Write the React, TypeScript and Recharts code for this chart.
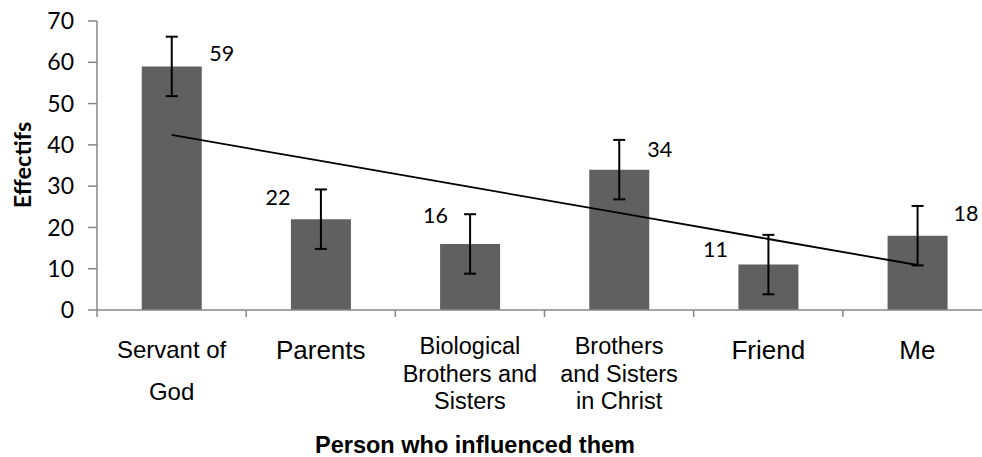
import React from 'react';
import {
  ComposedChart,
  Bar,
  Line,
  XAxis,
  YAxis,
  ErrorBar,
  LabelList,
  Label,
} from 'recharts';

const categories = [
  ['Servant of', 'God'],
  ['Parents'],
  ['Biological', 'Brothers and', 'Sisters'],
  ['Brothers', 'and Sisters', 'in Christ'],
  ['Friend'],
  ['Me'],
];
const counts = [59, 22, 16, 34, 11, 18];
const errors = [7.2, 7.2, 7.2, 7.2, 7.2, 7.2];
const trend = [42.4, 36.1, 29.8, 23.5, 17.2, 10.9];
const yTicks = [0, 10, 20, 30, 40, 50, 60, 70];

const data = categories.map((lines, i) => ({
  name: lines.join(' '),
  count: counts[i],
  err: errors[i],
  trend: trend[i],
}));

// the original is cropped on the right, so the plot runs past the edge
const CHART_W = 982;
const CHART_H = 457;
const MARGIN = { top: 21, right: -10, bottom: 0, left: 0 };
const Y_AXIS_W = 97;
const HALF_BAND = (CHART_W - MARGIN.left - MARGIN.right - Y_AXIS_W) / categories.length / 2;

const AXIS_GRAY = '#878787';
const BAR_FILL = '#606060';
const CALIBRI = 'Lato, "Open Sans", sans-serif';
const ARIAL = '"Liberation Sans", Arial, sans-serif';

// label placement relative to bar centre / top, like the hand-moved labels of the original
const LABEL_DX = [50, -43, -34.5, 40.5, -53, 48.5];
const LABEL_DY = [-13.5, -22.5, -29, -21, -16, -22.5];

function CategoryTick(props: any) {
  const { x, y, index } = props;
  const axisY = y - 7;
  const lines = categories[index] || [];
  let baselines: number[];
  let size: number;
  if (lines.length === 3) {
    baselines = [44, 71.5, 98.5];
    size = 23.5;
  } else if (lines.length === 2) {
    baselines = [48, 90];
    size = 24;
  } else {
    baselines = [49];
    size = 26;
  }
  return (
    <g>
      <line x1={x - HALF_BAND} x2={x - HALF_BAND} y1={axisY} y2={axisY + 7} stroke={AXIS_GRAY} strokeWidth={1.5} />
      {lines.map((ln, i) => (
        <text key={i} x={x} y={axisY + baselines[i]} textAnchor="middle" fontFamily={ARIAL} fontSize={size} fill="#000">
          {ln}
        </text>
      ))}
    </g>
  );
}

function ValueLabel(props: any) {
  const { x, y, width, value, index } = props;
  return (
    <text
      x={x + width / 2 + LABEL_DX[index]}
      y={y + LABEL_DY[index]}
      textAnchor="middle"
      dominantBaseline="central"
      fontFamily={CALIBRI}
      fontSize={21.5}
      fill="#000"
    >
      {value}
    </text>
  );
}

export default function App() {
  return (
    <div style={{ position: 'fixed', left: 0, top: 0, width: 982, height: 457, overflow: 'hidden', background: '#fff' }}>
      <ComposedChart width={CHART_W} height={CHART_H} data={data} margin={MARGIN} barCategoryGap="30%">
        <XAxis
          dataKey="name"
          height={CHART_H - MARGIN.top - 289 - MARGIN.bottom}
          stroke={AXIS_GRAY}
          strokeWidth={1.5}
          tickLine={false}
          tickSize={7}
          tickMargin={0}
          interval={0}
          tick={<CategoryTick />}
        >
          <Label
            content={(p: any) => {
              const vb = p.viewBox;
              return (
                <text x={vb.x + 378} y={vb.y + 143} textAnchor="middle" fontFamily={ARIAL} fontWeight="bold" fontSize={23.5} fill="#000">
                  Person who influenced them
                </text>
              );
            }}
          />
        </XAxis>
        <YAxis
          width={Y_AXIS_W}
          domain={[0, 70]}
          ticks={yTicks}
          interval={0}
          stroke={AXIS_GRAY}
          strokeWidth={1.5}
          tickSize={9}
          tickMargin={14}
          tick={{ fill: '#000', fontFamily: CALIBRI, fontSize: 23 }}
        >
          <Label
            content={() => (
              <text
                x={31}
                y={165}
                transform="rotate(-90 31 165)"
                textAnchor="middle"
                fontFamily={CALIBRI}
                fontWeight="bold"
                fontSize={23.5}
                fill="#000"
              >
                Effectifs
              </text>
            )}
          />
        </YAxis>
        <Bar dataKey="count" fill={BAR_FILL} isAnimationActive={false}>
          <ErrorBar dataKey="err" width={6} stroke="#000" strokeWidth={2} direction="y" />
          <LabelList dataKey="count" content={<ValueLabel />} />
        </Bar>
        <Line dataKey="trend" type="linear" stroke="#000" strokeWidth={1.8} dot={false} isAnimationActive={false} />
      </ComposedChart>
    </div>
  );
}
